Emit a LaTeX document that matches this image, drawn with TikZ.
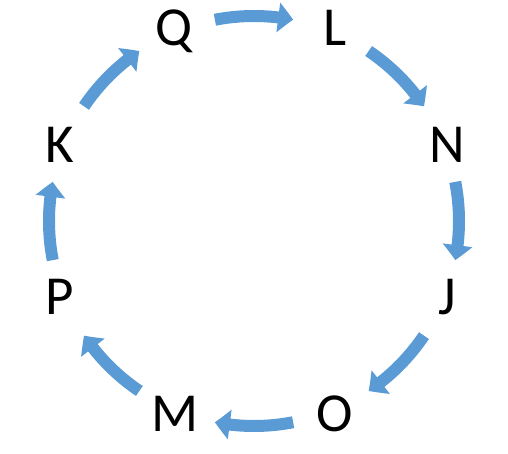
\documentclass[tikz,border=0pt]{standalone}
\usepackage{fontspec}
\setmainfont{Carlito}
\usetikzlibrary{arrows.meta,bending}
\definecolor{arrowblue}{HTML}{5B9BD5}
\begin{document}
\begin{tikzpicture}[x=1pt,y=1pt,
  letter/.style={font=\fontsize{55}{55}\selectfont, anchor=base, inner sep=0pt, text=black},
  arr/.style={draw=arrowblue, line width=12pt, line cap=butt,
    -{Triangle[length=15pt,width=29pt,bend]}}]
\useasboundingbox (0,0) rectangle (508,453);
\coordinate (c) at (254,232);
\node[letter] (Q) at (174,407.5) {Q};
\node[letter] (L) at (335,407.5) {L};
\node[letter] (N) at (447,290.5) {N};
\node[letter] (J) at (447,138.5) {J};
\node[letter] (O) at (335,21.5) {O};
\node[letter] (M) at (175,21.5) {M};
\node[letter] (P) at (60,138.5) {P};
\node[letter] (K) at (60,290.5) {K};
\foreach \a in {90,45,0,-45,-90,-135,-180,-225}{
  \draw[arr] ([shift={(\a+11:205)}]c) arc[start angle=\a+11, end angle=\a-11, radius=205];
}
\end{tikzpicture}
\end{document}
